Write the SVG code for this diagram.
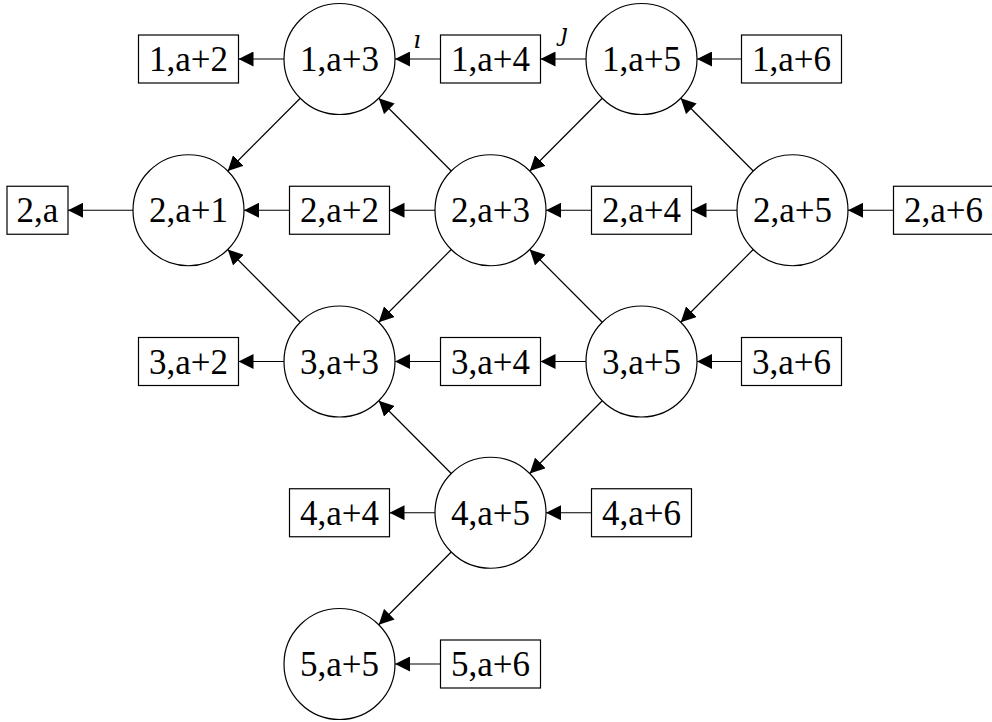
<svg xmlns="http://www.w3.org/2000/svg" width="992" height="722" viewBox="0 0 992 722">
<defs>
<marker id="ah" markerUnits="userSpaceOnUse" markerWidth="15" markerHeight="15" refX="14" refY="7" orient="auto" viewBox="0 0 14 14">
<path d="M0,0 L14,7 L0,14 z" fill="#000"/>
</marker>
<style>
.c{fill:#fff;stroke:#000;stroke-width:1.2}
.b{fill:#fff;stroke:#000;stroke-width:1.2}
.t{font-family:"Liberation Serif","DejaVu Serif",serif;font-size:35px;text-anchor:middle;fill:#000}
.e{stroke:#000;stroke-width:1.2;fill:none;marker-end:url(#ah)}
.l{font-family:"DejaVu Serif","Liberation Serif",serif;font-style:italic;font-size:24px;fill:#000;text-anchor:middle}
</style>
</defs>
<rect width="992" height="722" fill="#fff"/>
<g id="connectors">
<line class="e" x1="284" y1="59" x2="238.5" y2="59"/>
<line class="e" x1="440.5" y1="59" x2="395" y2="59"/>
<line class="e" x1="586" y1="59" x2="540.5" y2="59"/>
<line class="e" x1="741.5" y1="59" x2="697" y2="59"/>
<line class="e" x1="133" y1="210.25" x2="68" y2="210.25"/>
<line class="e" x1="289.5" y1="210.25" x2="244" y2="210.25"/>
<line class="e" x1="435" y1="210.25" x2="389.5" y2="210.25"/>
<line class="e" x1="591.5" y1="210.25" x2="546" y2="210.25"/>
<line class="e" x1="737" y1="210.25" x2="691.5" y2="210.25"/>
<line class="e" x1="893.5" y1="210.25" x2="848" y2="210.25"/>
<line class="e" x1="284" y1="361.5" x2="238.5" y2="361.5"/>
<line class="e" x1="440.5" y1="361.5" x2="395" y2="361.5"/>
<line class="e" x1="586" y1="361.5" x2="540.5" y2="361.5"/>
<line class="e" x1="741.5" y1="361.5" x2="697" y2="361.5"/>
<line class="e" x1="435" y1="512.75" x2="389.5" y2="512.75"/>
<line class="e" x1="591.5" y1="512.75" x2="546" y2="512.75"/>
<line class="e" x1="440.5" y1="664" x2="395" y2="664"/>
<line class="e" x1="300.25" y1="98.25" x2="227.75" y2="171"/>
<line class="e" x1="451.25" y1="171" x2="378.75" y2="98.25"/>
<line class="e" x1="602.25" y1="98.25" x2="529.75" y2="171"/>
<line class="e" x1="753.25" y1="171" x2="680.75" y2="98.25"/>
<line class="e" x1="451.25" y1="249.5" x2="378.75" y2="322.25"/>
<line class="e" x1="300.25" y1="322.25" x2="227.75" y2="249.5"/>
<line class="e" x1="602.25" y1="322.25" x2="529.75" y2="249.5"/>
<line class="e" x1="753.25" y1="249.5" x2="680.75" y2="322.25"/>
<line class="e" x1="602.25" y1="400.75" x2="529.75" y2="473.5"/>
<line class="e" x1="451.25" y1="473.5" x2="378.75" y2="400.75"/>
<line class="e" x1="451.25" y1="552" x2="378.75" y2="624.75"/>
<text class="l" x="417" y="48">ı</text>
<text class="l" x="564" y="41">ȷ</text>
</g>
<g id="n1a2"><rect class="b" x="138.5" y="35" width="100" height="48"/><text class="t" x="188.5" y="71">1,a+2</text></g>
<g id="n1a3"><circle class="c" cx="339.5" cy="59" r="55.5"/><text class="t" x="339.5" y="71">1,a+3</text></g>
<g id="n1a4"><rect class="b" x="440.5" y="35" width="100" height="48"/><text class="t" x="490.5" y="71">1,a+4</text></g>
<g id="n1a5"><circle class="c" cx="641.5" cy="59" r="55.5"/><text class="t" x="641.5" y="71">1,a+5</text></g>
<g id="n1a6"><rect class="b" x="741.5" y="35" width="100" height="48"/><text class="t" x="791.5" y="71">1,a+6</text></g>
<g id="n2a"><rect class="b" x="7" y="186.25" width="61" height="48"/><text class="t" x="37.5" y="222.25">2,a</text></g>
<g id="n2a1"><circle class="c" cx="188.5" cy="210.25" r="55.5"/><text class="t" x="188.5" y="222.25">2,a+1</text></g>
<g id="n2a2"><rect class="b" x="289.5" y="186.25" width="100" height="48"/><text class="t" x="339.5" y="222.25">2,a+2</text></g>
<g id="n2a3"><circle class="c" cx="490.5" cy="210.25" r="55.5"/><text class="t" x="490.5" y="222.25">2,a+3</text></g>
<g id="n2a4"><rect class="b" x="591.5" y="186.25" width="100" height="48"/><text class="t" x="641.5" y="222.25">2,a+4</text></g>
<g id="n2a5"><circle class="c" cx="792.5" cy="210.25" r="55.5"/><text class="t" x="792.5" y="222.25">2,a+5</text></g>
<g id="n2a6"><rect class="b" x="893.5" y="186.25" width="100" height="48"/><text class="t" x="943.5" y="222.25">2,a+6</text></g>
<g id="n3a2"><rect class="b" x="138.5" y="337.5" width="100" height="48"/><text class="t" x="188.5" y="373.5">3,a+2</text></g>
<g id="n3a3"><circle class="c" cx="339.5" cy="361.5" r="55.5"/><text class="t" x="339.5" y="373.5">3,a+3</text></g>
<g id="n3a4"><rect class="b" x="440.5" y="337.5" width="100" height="48"/><text class="t" x="490.5" y="373.5">3,a+4</text></g>
<g id="n3a5"><circle class="c" cx="641.5" cy="361.5" r="55.5"/><text class="t" x="641.5" y="373.5">3,a+5</text></g>
<g id="n3a6"><rect class="b" x="741.5" y="337.5" width="100" height="48"/><text class="t" x="791.5" y="373.5">3,a+6</text></g>
<g id="n4a4"><rect class="b" x="289.5" y="488.75" width="100" height="48"/><text class="t" x="339.5" y="524.75">4,a+4</text></g>
<g id="n4a5"><circle class="c" cx="490.5" cy="512.75" r="55.5"/><text class="t" x="490.5" y="524.75">4,a+5</text></g>
<g id="n4a6"><rect class="b" x="591.5" y="488.75" width="100" height="48"/><text class="t" x="641.5" y="524.75">4,a+6</text></g>
<g id="n5a5"><circle class="c" cx="339.5" cy="664" r="55.5"/><text class="t" x="339.5" y="676">5,a+5</text></g>
<g id="n5a6"><rect class="b" x="440.5" y="640" width="100" height="48"/><text class="t" x="490.5" y="676">5,a+6</text></g>
</svg>
